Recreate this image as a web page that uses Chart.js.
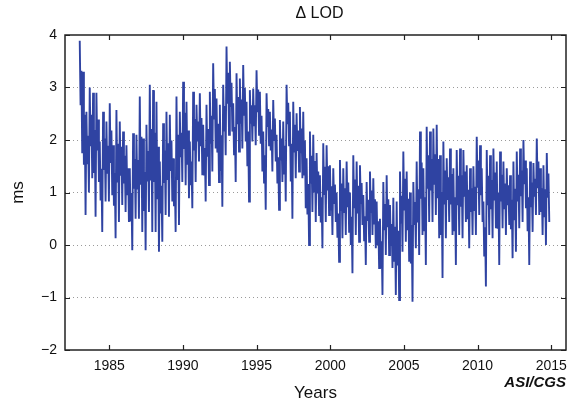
<!DOCTYPE html>
<html>
<head>
<meta charset="utf-8">
<script src="https://cdn.jsdelivr.net/npm/chart.js@4"></script>
<style>
  html, body { margin: 0; padding: 0; background: #ffffff; }
  #wrap { width: 576px; height: 406px; }
</style>
</head>
<body>
<div id="wrap"><canvas id="lodChart" width="576" height="406"></canvas></div>
<script>
// ================= data ======================
var chartTitle = '\u0394 LOD';
var yTitle = 'ms';
var xTitle = 'Years';
var creditText = 'ASI/CGS';

var xTicks = [1985, 1990, 1995, 2000, 2005, 2010, 2015];
var yTicks = [-2, -1, 0, 1, 2, 3, 4];

// sampling of the series (years)
var startYear = 1983.0;
var stepYears = 0.0566;

// LOD excess (ms), 4 samples per ~0.23 yr
var lodValues = [
    3.89, 2.66, 3.32, 1.75,   3.30, 1.53, 2.48, 0.57,   2.54, 1.54, 2.08, 1.00,   3.00, 1.88, 2.48, 1.27,
    2.90, 1.37, 2.19, 0.54,   2.90, 1.80, 2.39, 1.20,   1.97, 0.85, 1.45, 0.25,   2.54, 1.43, 2.03, 0.83,
    2.35, 1.36, 1.89, 0.83,   2.70, 1.56, 2.18, 0.95,   1.90, 0.75, 1.37, 0.13,   2.57, 1.19, 1.93, 0.44,
    2.35, 1.32, 1.87, 0.76,   2.16, 1.17, 1.70, 0.63,   1.90, 0.95, 1.46, 0.44,   1.46, 0.45, 0.99, -0.10,
    2.13, 1.07, 1.64, 0.50,   2.10, 1.06, 1.62, 0.50,   2.83, 1.15, 2.06, 0.25,   2.03, 0.65, 1.39, -0.10,
    2.29, 1.21, 1.79, 0.63,   3.05, 1.23, 2.21, 0.25,   2.95, 1.20, 2.14, 0.25,   2.73, 0.87, 1.87, -0.13,
    1.59, 0.60, 1.13, 0.06,   2.32, 1.18, 1.80, 0.57,   2.54, 1.24, 1.94, 0.54,   2.48, 1.41, 1.99, 0.83,
    1.65, 0.74, 1.23, 0.25,   2.83, 1.24, 2.10, 0.38,   2.54, 1.67, 2.14, 1.20,   3.11, 1.83, 2.52, 1.14,
    2.73, 1.53, 2.18, 0.89,   1.97, 1.14, 1.59, 0.70,   2.92, 1.80, 2.40, 1.20,   2.67, 1.97, 2.35, 1.59,
    2.89, 1.88, 2.42, 1.33,   2.29, 1.34, 1.85, 0.83,   2.67, 1.68, 2.21, 1.14,   2.92, 1.93, 2.46, 1.40,
    3.46, 2.41, 2.97, 1.84,   2.79, 1.76, 2.31, 1.20,   2.67, 1.41, 2.09, 0.73,   3.05, 2.18, 2.65, 1.71,
    3.78, 2.69, 3.28, 2.10,   3.49, 2.63, 3.09, 2.16,   2.70, 1.73, 2.25, 1.20,   3.27, 2.30, 2.82, 1.78,
    3.17, 2.31, 2.77, 1.84,   3.43, 2.48, 2.99, 1.97,   2.73, 1.50, 2.16, 0.83,   2.95, 2.31, 2.66, 1.97,
    2.98, 2.28, 2.66, 1.90,   3.33, 2.53, 2.96, 2.10,   2.92, 1.93, 2.46, 1.40,   2.16, 1.19, 1.71, 0.67,
    2.89, 2.25, 2.59, 1.90,   2.54, 1.80, 2.20, 1.40,   2.76, 2.00, 2.41, 1.59,   2.10, 1.17, 1.67, 0.67,
    2.38, 1.61, 2.03, 1.20,   2.35, 1.36, 1.89, 0.83,   3.05, 2.30, 2.71, 1.90,   2.54, 1.21, 1.93, 0.50,
    2.73, 1.78, 2.29, 1.27,   2.51, 1.79, 2.18, 1.40,   2.63, 1.75, 2.22, 1.27,   2.54, 1.34, 1.99, 0.70,
    1.65, 0.58, 1.16, 0.00,   2.16, 1.17, 1.70, 0.63,   2.10, 1.02, 1.60, 0.44,   1.75, 0.98, 1.40, 0.57,
    1.33, 0.43, 0.91, -0.06,  1.94, 0.97, 1.49, 0.44,   1.90, 1.04, 1.50, 0.57,   1.52, 0.66, 1.12, 0.19,
    1.46, 0.80, 1.15, 0.44,   1.00, 0.14, 0.60, -0.32,  1.62, 0.65, 1.17, 0.13,   1.46, 0.63, 1.08, 0.19,
    1.59, 0.72, 1.19, 0.25,   1.00, 0.00, 0.54, -0.54,  1.71, 0.72, 1.25, 0.19,   1.59, 0.60, 1.13, 0.06,
    1.52, 0.78, 1.18, 0.38,   0.95, 0.09, 0.55, -0.38,  1.20, 0.46, 0.86, 0.06,   1.40, 0.61, 1.04, 0.19,
    1.27, 0.41, 0.87, -0.06,  0.83, 0.00, 0.45, -0.44,  0.50, -0.44, 0.07, -0.95, 1.20, 0.30, 0.78, -0.19,
    1.33, 0.34, 0.87, -0.19,  0.76, -0.02, 0.40, -0.44, 0.90, -0.30, 0.35, -0.95, 0.83, -0.39, 0.27, -1.05,
    1.40, 0.41, 0.94, -0.13,  1.78, 0.66, 1.26, 0.06,   1.40, 0.28, 0.88, -0.32,  1.00, -0.35, 0.38, -1.08,
    1.20, 0.38, 0.82, -0.06,  1.59, 0.43, 1.06, -0.19,  2.16, 0.88, 1.57, 0.19,   1.46, 0.26, 0.91, -0.38,
    2.25, 1.07, 1.71, 0.44,   2.16, 1.04, 1.64, 0.44,   2.22, 1.15, 1.73, 0.57,   2.29, 0.89, 1.64, 0.13,
    1.71, 0.19, 1.01, -0.63,  1.97, 0.77, 1.42, 0.13,   1.65, 0.86, 1.29, 0.44,   1.84, 0.77, 1.35, 0.19,
    1.46, 0.26, 0.91, -0.38,  1.81, 0.76, 1.32, 0.19,   1.84, 0.73, 1.33, 0.13,   1.81, 0.92, 1.40, 0.44,
    1.52, 0.49, 1.05, -0.06,  1.46, 0.63, 1.08, 0.19,   1.50, 0.65, 1.11, 0.19,   2.06, 1.09, 1.61, 0.57,
    1.90, 0.95, 1.46, 0.44,   0.83, -0.22, 0.34, -0.79, 1.81, 0.76, 1.32, 0.19,   1.71, 0.68, 1.24, 0.13,
    1.84, 0.85, 1.38, 0.32,   1.59, 0.31, 1.00, -0.38,  1.78, 0.83, 1.34, 0.32,   1.59, 0.68, 1.17, 0.19,
    1.46, 0.76, 1.14, 0.38,   1.33, 0.30, 0.86, -0.25,  1.59, 0.47, 1.07, -0.13,  1.78, 0.83, 1.34, 0.32,
    1.84, 0.93, 1.42, 0.44,   2.00, 1.16, 1.61, 0.70,   1.46, 0.26, 0.91, -0.38,  1.59, 0.72, 1.19, 0.25,
    1.56, 0.92, 1.26, 0.57,   2.03, 1.08, 1.59, 0.57,   1.46, 0.63, 1.08, 0.19,   1.52, 0.53, 1.06, 0.00,
    1.75, 0.90, 1.36, 0.44
];

var lineColor = '#2f43a2';

// ================= frame, inward ticks, texts ======================
var framePlugin = {
    id: 'framePlugin',
    afterDraw: function (chart) {
        var ctx = chart.ctx,
            area = chart.chartArea,
            xs = chart.scales.x,
            ys = chart.scales.y;

        ctx.save();
        ctx.strokeStyle = '#222222';
        ctx.lineWidth = 1.5;
        ctx.strokeRect(area.left, area.top, area.right - area.left, area.bottom - area.top);

        // inward tick marks
        ctx.lineWidth = 1.2;
        ctx.beginPath();
        xTicks.forEach(function (v) {
            var px = Math.round(xs.getPixelForValue(v)) + 0.5;
            ctx.moveTo(px, area.bottom);
            ctx.lineTo(px, area.bottom - 5);
            ctx.moveTo(px, area.top);
            ctx.lineTo(px, area.top + 5);
        });
        yTicks.forEach(function (v) {
            var py = Math.round(ys.getPixelForValue(v)) + 0.5;
            ctx.moveTo(area.left, py);
            ctx.lineTo(area.left + 5, py);
            ctx.moveTo(area.right, py);
            ctx.lineTo(area.right - 5, py);
        });
        ctx.stroke();

        // texts
        ctx.fillStyle = '#111111';
        ctx.textAlign = 'center';
        ctx.textBaseline = 'middle';
        ctx.font = '16px "Liberation Sans", Arial, sans-serif';
        ctx.fillText(chartTitle, (area.left + area.right) / 2 + 4, 14);

        ctx.font = '17px "Liberation Sans", Arial, sans-serif';
        ctx.fillText(xTitle, (area.left + area.right) / 2, 393);

        ctx.save();
        ctx.translate(18, (area.top + area.bottom) / 2);
        ctx.rotate(-Math.PI / 2);
        ctx.fillText(yTitle, 0, 0);
        ctx.restore();

        ctx.textAlign = 'right';
        ctx.font = 'italic bold 15px "Liberation Sans", Arial, sans-serif';
        ctx.fillText(creditText, 566, 383);
        ctx.restore();
    }
};

// ================= chart ======================
var lodPoints = lodValues.map(function (v, i) {
    return { x: startYear + i * stepYears, y: v };
});

var lodChart = new Chart(document.getElementById('lodChart').getContext('2d'), {
    type: 'line',
    data: {
        datasets: [{
            label: chartTitle,
            data: lodPoints,
            borderColor: lineColor,
            backgroundColor: lineColor,
            borderWidth: 1.9,
            pointRadius: 0,
            tension: 0
        }]
    },
    options: {
        responsive: false,
        animation: false,
        layout: { padding: { left: 0, right: 10, top: 35, bottom: 0 } },
        plugins: {
            legend: { display: false },
            tooltip: { enabled: false },
            title: { display: false }
        },
        scales: {
            x: {
                type: 'linear',
                min: 1982,
                max: 2016,
                afterBuildTicks: function (axis) {
                    axis.ticks = xTicks.map(function (v) { return { value: v }; });
                },
                afterFit: function (axis) { axis.height = 56; },
                grid: { display: false, drawTicks: false },
                border: { display: false },
                ticks: {
                    padding: 8,
                    maxRotation: 0,
                    color: '#111111',
                    font: { family: '"Liberation Sans", Arial, sans-serif', size: 14 },
                    callback: function (v) { return String(v); }
                }
            },
            y: {
                min: -2,
                max: 4,
                afterBuildTicks: function (axis) {
                    axis.ticks = yTicks.map(function (v) { return { value: v }; });
                },
                afterFit: function (axis) { axis.width = 65; },
                grid: {
                    drawTicks: false,
                    color: function (c) {
                        return (c.tick && (c.tick.value === -2 || c.tick.value === 4)) ? 'rgba(0,0,0,0)' : '#9a9a9a';
                    },
                    lineWidth: 1
                },
                border: { display: false, dash: [1, 3] },
                ticks: {
                    padding: 8,
                    color: '#111111',
                    font: { family: '"Liberation Sans", Arial, sans-serif', size: 14 },
                    callback: function (v) { return v < 0 ? '\u2212' + Math.abs(v) : String(v); }
                }
            }
        }
    },
    plugins: [framePlugin]
});
</script>
</body>
</html>
